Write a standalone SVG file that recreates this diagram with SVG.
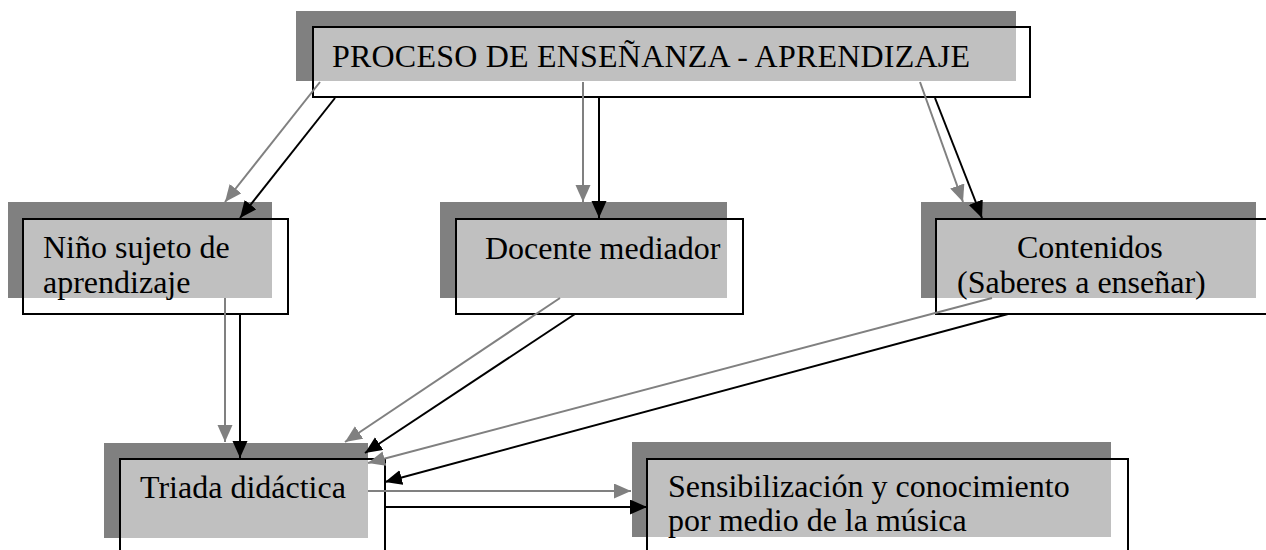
<svg xmlns="http://www.w3.org/2000/svg" width="1266" height="550" viewBox="0 0 1266 550">
<style>
.sh{fill:#808080}
.lt{fill:#c0c0c0}
.bx{fill:none;stroke:#000;stroke-width:2}
.wb{fill:#fff}
text{font-family:"Liberation Serif","Times New Roman",serif;font-size:32px;fill:#000}
.g{stroke:#808080;stroke-width:2;fill:none;marker-end:url(#ag)}
.k{stroke:#000;stroke-width:2;fill:none;marker-end:url(#ak)}
</style>
<defs>
<marker id="ag" markerUnits="userSpaceOnUse" markerWidth="18" markerHeight="16" refX="17" refY="7.5" orient="auto"><path d="M0,0 L17,7.5 L0,15 z" fill="#808080"/></marker>
<marker id="ak" markerUnits="userSpaceOnUse" markerWidth="18" markerHeight="16" refX="17" refY="7.5" orient="auto"><path d="M0,0 L17,7.5 L0,15 z" fill="#000"/></marker>
</defs>
<rect width="1266" height="550" fill="#fff"/>
<g id="proceso">
<rect class="sh" x="296" y="11" width="720" height="70"/>
<rect class="wb" x="313" y="27" width="717" height="70"/>
<rect class="lt" x="313" y="27" width="703" height="54"/>
<rect class="bx" x="313" y="27" width="717" height="70"/>
<text x="332" y="67" textLength="638">PROCESO DE ENSEÑANZA - APRENDIZAJE</text>
</g>
<g id="nino">
<rect class="sh" x="8" y="202" width="264" height="96"/>
<rect class="wb" x="23" y="219" width="265" height="95"/>
<rect class="lt" x="23" y="219" width="249" height="79"/>
<rect class="bx" x="23" y="219" width="265" height="95"/>
<text x="43" y="258">Niño sujeto de</text>
<text x="43" y="293">aprendizaje</text>
</g>
<g id="docente">
<rect class="sh" x="440" y="202" width="287" height="96"/>
<rect class="wb" x="456" y="219" width="287" height="95"/>
<rect class="lt" x="456" y="219" width="271" height="79"/>
<rect class="bx" x="456" y="219" width="287" height="95"/>
<text x="485" y="259">Docente mediador</text>
</g>
<g id="contenidos">
<rect class="sh" x="921" y="202" width="335" height="96"/>
<rect class="wb" x="936" y="219" width="340" height="95"/>
<rect class="lt" x="936" y="219" width="320" height="79"/>
<rect class="bx" x="936" y="219" width="340" height="95"/>
<text x="1017" y="258">Contenidos</text>
<text x="957" y="293">(Saberes a enseñar)</text>
</g>
<g id="triada">
<rect class="sh" x="104" y="443" width="264" height="95"/>
<rect class="wb" x="120" y="459" width="265" height="120"/>
<rect class="lt" x="120" y="459" width="248" height="79"/>
<rect class="bx" x="120" y="459" width="265" height="120"/>
<text x="140" y="498">Triada didáctica</text>
</g>
<g id="sensibilizacion">
<rect class="sh" x="632" y="442" width="479" height="95"/>
<rect class="wb" x="647" y="459" width="481" height="120"/>
<rect class="lt" x="647" y="459" width="464" height="78"/>
<rect class="bx" x="647" y="459" width="481" height="120"/>
<text x="668" y="497">Sensibilización y conocimiento</text>
<text x="668" y="531">por medio de la música</text>
</g>
<g id="connectors">
<line class="g" x1="320" y1="82" x2="225" y2="202"/>
<line class="k" x1="335" y1="98" x2="240" y2="218"/>
<line class="g" x1="583" y1="82" x2="583" y2="202"/>
<line class="k" x1="599" y1="98" x2="599" y2="218"/>
<line class="g" x1="920" y1="82" x2="963" y2="202"/>
<line class="k" x1="935" y1="98" x2="982" y2="218"/>
<line class="g" x1="225" y1="298" x2="225" y2="442"/>
<line class="k" x1="240" y1="314" x2="240" y2="458"/>
<line class="g" x1="560" y1="298" x2="345" y2="442"/>
<line class="k" x1="575" y1="314" x2="365" y2="453"/>
<line class="g" x1="992" y1="298" x2="368" y2="463"/>
<line class="k" x1="1008" y1="314" x2="385" y2="482"/>
<line class="g" x1="368" y1="491" x2="631" y2="491"/>
<line class="k" x1="385" y1="507" x2="647" y2="507"/>
</g>
</svg>
